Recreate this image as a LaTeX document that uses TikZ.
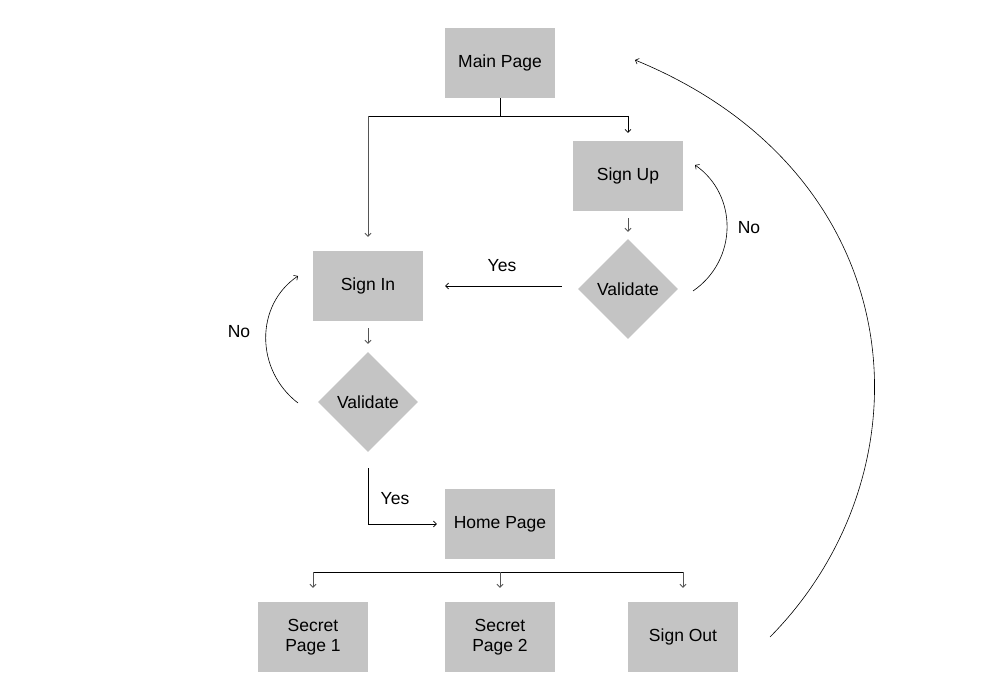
\documentclass[tikz,border=0pt]{standalone}
\usepackage{fontspec}
\setmainfont{Liberation Sans}
\usetikzlibrary{shapes.geometric,arrows.meta}
\definecolor{boxgray}{HTML}{C4C4C4}
\definecolor{linegray}{HTML}{555555}
\begin{document}
\begin{tikzpicture}[x=1pt,y=-1pt,
  box/.style={fill=boxgray, minimum width=110pt, minimum height=70pt, inner sep=0pt, align=center, font=\fontsize{17.5}{20.5}\selectfont},
  dia/.style={diamond, fill=boxgray, minimum width=100pt, minimum height=100pt, inner sep=0pt, font=\fontsize{17.5}{20.5}\selectfont},
  lbl/.style={font=\fontsize{17.5}{20.5}\selectfont},
  arr/.style={-{Straight Barb[length=3pt,width=6pt]}, line width=0.6pt},
  garr/.style={arr, draw=linegray, line width=0.9pt},
  ln/.style={line width=0.8pt}]
\useasboundingbox[fill=white] (0,0) rectangle (1000,700);
% nodes
\node[box] (main) at (500,63) {Main Page};
\node[box] (signup) at (628,176) {Sign Up};
\node[box] (signin) at (368,286) {Sign In};
\node[dia] (v1) at (628,289) {Validate};
\node[dia] (v2) at (368,402) {Validate};
\node[box] (home) at (500,524) {Home Page};
\node[box] (sp1) at (313,637) {Secret\\Page 1};
\node[box] (sp2) at (500,637) {Secret\\Page 2};
\node[box] (so) at (683,637) {Sign Out};
% coordinates
\coordinate (mJ) at (500,116);
\coordinate (mL) at (368,116);
\coordinate (mR) at (628,116);
\coordinate (hL) at (313,572);
\coordinate (hM) at (500,572);
\coordinate (hR) at (683,572);
\coordinate (v1s) at (693,291);
\coordinate (v1e) at (695,165);
\coordinate (v2s) at (298,403);
\coordinate (v2e) at (298,276);
\coordinate (sos) at (770,637);
\coordinate (soe) at (635,60);
% connectors
\draw[ln] (main.south) -- (mJ);
\draw[ln] (mL) -- (mR);
\draw[garr] (mL) -- ([yshift=14pt]signin.north);
\draw[arr] (mR) -- ([yshift=8pt]signup.north);
\draw[garr] ([yshift=-7pt]signup.south) -- ([yshift=7pt]v1.north);
\draw[arr] ([xshift=-16pt]v1.west |- signin.east) -- ([xshift=22pt]signin.east);
\node[lbl] (yes1) at (502,266) {Yes};
\draw[arr] (v1s) .. controls (738,260) and (738,195) .. (v1e);
\node[lbl] (no1) at (749,228) {No};
\draw[garr] ([yshift=-7pt]signin.south) -- ([yshift=8pt]v2.north);
\draw[arr] (v2s) .. controls (255,370) and (255,305) .. (v2e);
\node[lbl] (no2) at (239,332) {No};
\draw[arr] ([yshift=-16pt]v2.south) |- ([xshift=-8pt]home.west);
\node[lbl] (yes2) at (395,499) {Yes};
\draw[ln] (hL) -- (hR);
\draw[garr] (hL) -- ([yshift=14pt]sp1.north);
\draw[garr] (hM) -- ([yshift=14pt]sp2.north);
\draw[garr] (hR) -- ([yshift=14pt]so.north);
\draw[arr] (sos) .. controls (935,470) and (915,175) .. (soe);
\end{tikzpicture}
\end{document}
